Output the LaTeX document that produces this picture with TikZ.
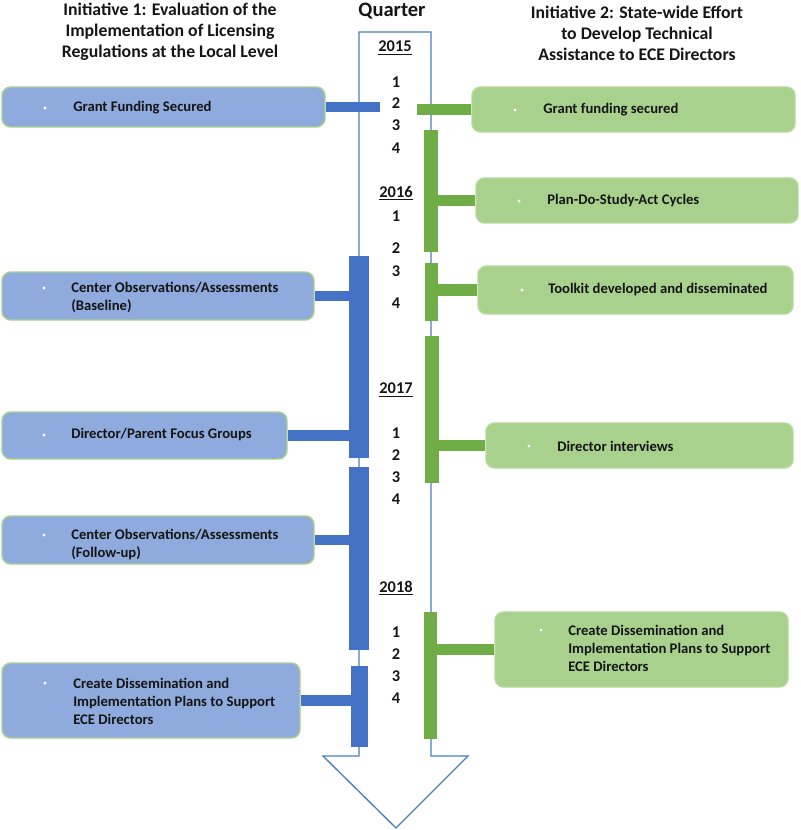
\documentclass[tikz,border=0pt]{standalone}
\usepackage{fontspec}
\setmainfont{Carlito}
\usetikzlibrary{calc,fit}
\definecolor{barblue}{HTML}{4472C4}
\definecolor{bargreen}{HTML}{70AD47}
\definecolor{boxblue}{HTML}{8FAADC}
\definecolor{boxgreen}{HTML}{A9D18E}
\definecolor{edgegreen}{HTML}{A9D18E}
\definecolor{edgegreen2}{HTML}{B4D99B}
\definecolor{arrowline}{HTML}{4A7EBB}
\definecolor{txt}{HTML}{151515}
\begin{document}
\begin{tikzpicture}[x=0.75pt,y=-0.75pt,
  lbox/.style={draw=edgegreen, line width=1.1pt, fill=boxblue, rounded corners=6.5pt, inner sep=0pt},
  rbox/.style={draw=edgegreen2, line width=1.1pt, fill=boxgreen, rounded corners=6.5pt, inner sep=0pt},
  btxt/.style={anchor=west, inner sep=0pt, align=left, text=txt, font=\fontsize{11}{13.5}\selectfont\bfseries},
  bul/.style={circle, fill=white, inner sep=0pt, minimum size=2.4pt},
  head/.style={align=center, inner sep=0pt, text=txt, font=\fontsize{13.3}{15.75}\selectfont\bfseries},
  qnum/.style={inner sep=0pt, text=txt, font=\fontsize{12.3}{14}\selectfont\bfseries},
  bbar/.style={fill=barblue, inner sep=0pt, minimum width=15pt},
  gbar/.style={fill=bargreen, inner sep=0pt, minimum width=10pt},
  bcon/.style={draw=barblue, line width=8pt},
  gcon/.style={draw=bargreen, line width=8.5pt}]
\useasboundingbox (0,0) rectangle (800,830);

% headers
\node[head] (h1) at (170,32) {Initiative 1: Evaluation of the\\Implementation of Licensing\\Regulations at the Local Level};
\node[head] (h2) at (637,33) {Initiative 2: State-wide Effort\\to Develop Technical\\Assistance to ECE Directors};
\node[inner sep=0pt, text=txt, font=\fontsize{15.4}{18}\selectfont\bfseries] (q) at (392,11) {Quarter};

% arrow outline
\draw[arrowline, line width=1pt, line join=miter] (359,32) -- (431,32) -- (431,756) -- (468,756) -- (396,828) -- (323,756) -- (359,756) -- cycle;

% year and quarter labels
\node[qnum] (y15) at (395,48) {\underline{2015}};
\node[qnum] (a1) at (396,82) {1};
\node[qnum] (a2) at (396,103) {2};
\node[qnum] (a3) at (396,125) {3};
\node[qnum] (a4) at (396,148) {4};
\node[qnum] (y16) at (396,193) {\underline{2016}};
\node[qnum] (b1) at (396,216) {1};
\node[qnum] (b2) at (396,248) {2};
\node[qnum] (b3) at (396,271) {3};
\node[qnum] (b4) at (396,303) {4};
\node[qnum] (y17) at (396,390) {\underline{2017}};
\node[qnum] (c1) at (396,433) {1};
\node[qnum] (c2) at (396,455) {2};
\node[qnum] (c3) at (396,477) {3};
\node[qnum] (c4) at (396,499) {4};
\node[qnum] (y18) at (396,588) {\underline{2018}};
\node[qnum] (d1) at (396,632) {1};
\node[qnum] (d2) at (396,654) {2};
\node[qnum] (d3) at (396,676) {3};
\node[qnum] (d4) at (396,698) {4};

% left boxes
\node[lbox, fit={(2,87) (325,127)}] (L1) {};
\node[lbox, fit={(2,272) (314,320)}] (L2) {};
\node[lbox, fit={(2,412) (287,459)}] (L3) {};
\node[lbox, fit={(2,516) (314,564)}] (L4) {};
\node[lbox, fit={(2,663) (300,738)}] (L5) {};

\node[bul] (L1b) at (45,108) {};
\node[btxt] (L1t) at (73,108) {Grant Funding Secured};
\node[bul] (L2b) at (44,288) {};
\node[btxt] (L2t) at (71,297.5) {Center Observations/Assessments\\(Baseline)};
\node[bul] (L3b) at (44,435) {};
\node[btxt] (L3t) at (71,435) {Director/Parent Focus Groups};
\node[bul] (L4b) at (44,535) {};
\node[btxt] (L4t) at (71,544) {Center Observations/Assessments\\(Follow-up)};
\node[bul] (L5b) at (45,683) {};
\node[btxt] (L5t) at (73,701.5) {Create Dissemination and\\Implementation Plans to Support\\ECE Directors};

% right boxes
\node[rbox, fit={(472,87) (795,132)}] (R1) {};
\node[rbox, fit={(476,178) (798,223)}] (R2) {};
\node[rbox, fit={(478,266) (793,314)}] (R3) {};
\node[rbox, fit={(486,423) (793,468)}] (R4) {};
\node[rbox, fit={(495,612) (788,687)}] (R5) {};

\node[bul] (R1b) at (515,110) {};
\node[btxt] (R1t) at (543,110) {Grant funding secured};
\node[bul] (R2b) at (519,201) {};
\node[btxt] (R2t) at (547,201) {Plan-Do-Study-Act Cycles};
\node[bul] (R3b) at (522,290) {};
\node[btxt] (R3t) at (548,290) {Toolkit developed and disseminated};
\node[bul] (R4b) at (529,446) {};
\node[btxt] (R4t) at (557,446) {Director interviews};
\node[bul] (R5b) at (541,630) {};
\node[btxt] (R5t) at (568,648) {Create Dissemination and\\Implementation Plans to Support\\ECE Directors};

% bars
\coordinate (bj) at (380,111);
\coordinate (gj) at (417,112);
\node[bbar, minimum height={202*0.75pt}] (B1) at (359,357) {};
\node[bbar, minimum height={183*0.75pt}] (B2) at (359,558.5) {};
\node[bbar, minimum width={17*0.75pt}, minimum height={81*0.75pt}] (B3) at (359.5,706.5) {};
\node[gbar, minimum height={122*0.75pt}] (G1) at (431,191) {};
\node[gbar, minimum height={58*0.75pt}] (G2) at (431.5,292) {};
\node[gbar, minimum height={147*0.75pt}] (G3) at (432,409.5) {};
\node[gbar, minimum height={127*0.75pt}] (G4) at (430.5,675.5) {};

% connectors
\draw[bcon] (L1.east) -- (L1.east -| bj);
\draw[bcon] (L2.east) -- (L2.east -| B1.center);
\draw[bcon] (L3.east) -- (L3.east -| B1.center);
\draw[bcon] (L4.east) -- (L4.east -| B2.center);
\draw[bcon] (L5.east) -- (L5.east -| B3.center);
\draw[gcon] (R1.west) -- (R1.west -| gj);
\draw[gcon] (R2.west) -- (R2.west -| G1.center);
\draw[gcon] (R3.west) -- (R3.west -| G2.center);
\draw[gcon] (R4.west) -- (R4.west -| G3.center);
\draw[gcon] (R5.west) -- (R5.west -| G4.center);
\end{tikzpicture}
\end{document}
